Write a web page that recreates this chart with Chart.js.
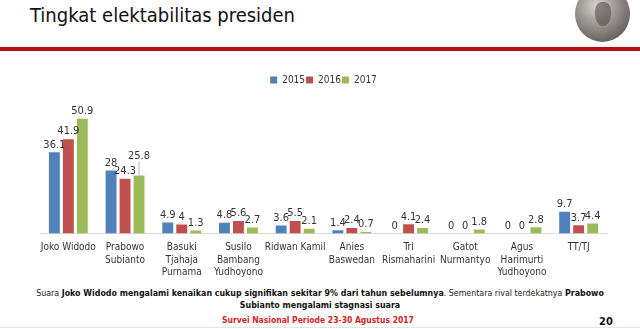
<!DOCTYPE html>
<html>
<head>
<meta charset="utf-8">
<script src="https://cdn.jsdelivr.net/npm/chart.js@4/dist/chart.umd.min.js"></script>
<style>
  body { margin: 0; background: #fff; width: 640px; height: 329px; overflow: hidden; position: relative;
         font-family: 'Liberation Sans Narrow', 'DejaVu Sans Condensed', 'Liberation Sans', sans-serif; }
  #title { position: absolute; left: 30px; top: 3px; font-size: 20px; color: #111; }
  #rule { position: absolute; left: 0; top: 47px; width: 640px; height: 4px; background: #b20f17;
          box-shadow: 0 0 1px #e07070; }
  #logo { position: absolute; left: 575px; top: -14px; width: 55px; height: 56px; border-radius: 50%;
          background: radial-gradient(circle at 40% 35%, #d6d3d0 0%, #a19c98 35%, #6f6a67 70%, #4a4644 100%); }
  #logo .fig { position: absolute; left: 20px; top: 16px; width: 16px; height: 24px; border-radius: 40% 40% 50% 50%;
          background: #4a4543; opacity: .55; }
  #wrap { position: absolute; left: 0; top: 60px; width: 640px; height: 227px; }
  #note { position: absolute; left: 0; top: 287px; width: 640px; text-align: center; font-size: 8.8px;
          line-height: 12px; color: #222; white-space: nowrap; }
  #note b { color: #111; }
  #survey { position: absolute; left: 0; top: 315px; width: 636px; text-align: center; font-size: 8.5px;
          font-weight: bold; color: #d21f26; }
  #page { position: absolute; left: 599px; top: 315px; font-size: 11px; font-weight: bold; color: #111; }
  #foot { position: absolute; left: 0; top: 327px; width: 640px; height: 1px; background: #e6e6e6; }
</style>
</head>
<body>
<div id="title">Tingkat elektabilitas presiden</div>
<div id="logo"><div class="fig"></div></div>
<div id="rule"></div>
<div id="wrap"><canvas id="chart"></canvas></div>
<div id="note">Suara <b>Joko Widodo mengalami kenaikan cukup signifikan sekitar 9% dari tahun sebelumnya</b>. Sementara rival terdekatnya <b>Prabowo</b><br><b>Subianto mengalami stagnasi suara</b></div>
<div id="survey">Survei Nasional Periode 23-30 Agustus 2017</div>
<div id="page">20</div>
<div id="foot"></div>
<script>
var categories = [
   'Joko Widodo',
   ['Prabowo', 'Subianto'],
   ['Basuki', 'Tjahaja', 'Purnama'],
   ['Susilo', 'Bambang', 'Yudhoyono'],
   'Ridwan Kamil',
   ['Anies', 'Baswedan'],
   ['Tri', 'Rismaharini'],
   ['Gatot', 'Nurmantyo'],
   ['Agus', 'Harimurti', 'Yudhoyono'],
   'TT/TJ'
];
var years = ['2015', '2016', '2017'];
var values2015 = [36.1, 28, 4.9, 4.8, 3.6, 1.4, 0, 0, 0, 9.7];
var values2016 = [41.9, 24.3, 4, 5.6, 5.5, 2.4, 4.1, 0, 0, 3.7];
var values2017 = [50.9, 25.8, 1.3, 2.7, 2.1, 0.7, 2.4, 1.8, 2.8, 4.4];
var colors = ['#4f81bd', '#c0504d', '#9bbb59'];

var fontFamily = "'Liberation Sans Narrow', 'DejaVu Sans Condensed', 'Liberation Sans', sans-serif";

// draws the numbers above each bar; a label that would sit on its
// neighbour is lifted and tied to its bar with a thin leader line
var valueLabels = {
   id: 'valueLabels',
   afterDatasetsDraw: function(chart) {
      var ctx = chart.ctx;
      ctx.save();
      ctx.font = '11px ' + fontFamily;
      ctx.fillStyle = '#333';
      ctx.textAlign = 'center';
      ctx.textBaseline = 'bottom';
      chart.data.datasets.forEach(function(ds, i) {
         var meta = chart.getDatasetMeta(i);
         var prev = i > 0 ? chart.getDatasetMeta(i - 1) : null;
         meta.data.forEach(function(bar, j) {
            var y = bar.y - 2;
            if (prev && ds.data[j] > 10 && Math.abs(prev.data[j].y - bar.y) < 8) {
               y = bar.y - 14;
               ctx.strokeStyle = '#999';
               ctx.lineWidth = 0.7;
               ctx.beginPath();
               ctx.moveTo(bar.x, y);
               ctx.lineTo(bar.x, bar.y);
               ctx.stroke();
            }
            ctx.fillText(String(ds.data[j]), bar.x, y);
         });
      });
      ctx.restore();
   }
};

var series = [values2015, values2016, values2017];

var chart = new Chart(document.getElementById('chart'), {
   type: 'bar',
   data: {
      labels: categories,
      datasets: series.map(function(v, i) {
         return {
            label: years[i],
            data: v,
            backgroundColor: colors[i],
            barPercentage: 0.78,
            categoryPercentage: 0.74
         };
      })
   },
   plugins: [valueLabels],
   options: {
      responsive: true,
      maintainAspectRatio: false,
      animation: false,
      layout: { padding: { left: 40, right: 33, top: 14, bottom: 0 } },
      plugins: {
         legend: {
            display: true,
            labels: {
               boxWidth: 7, boxHeight: 7, padding: 1,
               color: '#333',
               font: { family: fontFamily, size: 10 }
            }
         },
         tooltip: { enabled: false }
      },
      scales: {
         x: {
            grid: { display: false, drawTicks: false },
            border: { color: '#d9d9d9' },
            ticks: {
               color: '#333',
               maxRotation: 0,
               autoSkip: false,
               padding: 8,
               font: { family: fontFamily, size: 10, lineHeight: 1.25 }
            }
         },
         y: {
            display: false,
            min: 0,
            max: 61.5
         }
      }
   }
});
</script>
</body>
</html>
